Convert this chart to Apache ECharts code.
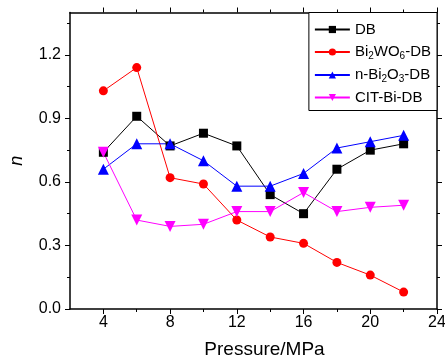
<!DOCTYPE html>
<html>
<head>
<meta charset="utf-8">
<script src="https://cdn.jsdelivr.net/npm/echarts@6/dist/echarts.min.js"></script>
<style>html,body{margin:0;padding:0;background:#fff}#c{width:445px;height:358px}</style>
</head>
<body>
<div id="c"></div>
<script>
const pressure = [4, 6, 8, 10, 12, 14, 16, 18, 20, 22];
const dbN = [0.74, 0.91, 0.77, 0.83, 0.77, 0.54, 0.45, 0.66, 0.75, 0.78];
const bwoN = [1.03, 1.14, 0.62, 0.59, 0.42, 0.34, 0.31, 0.22, 0.16, 0.08];
const bi2o3N = [0.66, 0.78, 0.78, 0.70, 0.58, 0.58, 0.64, 0.76, 0.79, 0.82];
const citN = [0.74, 0.42, 0.39, 0.40, 0.46, 0.46, 0.55, 0.46, 0.48, 0.49];
const seriesNames = ['DB', 'Bi2WO6-DB', 'n-Bi2O3-DB', 'CIT-Bi-DB'];
const xMajorTicks = [4, 8, 12, 16, 20, 24];
const xMinorTicks = [6, 10, 14, 18, 22];
const yMajorTicks = [0, 0.3, 0.6, 0.9, 1.2];
const yMinorTicks = [0.15, 0.45, 0.75, 1.05, 1.35];

const FONT = 'Liberation Sans, Arial, sans-serif';
const pairs = arr => pressure.map((p, i) => [p, arr[i]]);
const lineStyle = {color: '#000', width: 1.5};

function xAx(pos, ticks, len, showLine, showLabel) {
  return {
    type: 'value', min: 2, max: 24, position: pos,
    axisLine: {show: showLine, onZero: false, lineStyle: lineStyle},
    axisTick: {show: true, inside: false, length: len, customValues: ticks, lineStyle: {color: '#000', width: 1}},
    axisLabel: showLabel ? {show: true, customValues: ticks, fontSize: 16, color: '#000', fontFamily: FONT, margin: 6} : {show: false},
    splitLine: {show: false}
  };
}
function yAx(pos, ticks, len, showLine, showLabel) {
  return {
    type: 'value', min: 0, max: 1.4, position: pos,
    axisLine: {show: showLine, onZero: false, lineStyle: lineStyle},
    axisTick: {show: true, inside: false, length: len, customValues: ticks, lineStyle: {color: '#000', width: 1}},
    axisLabel: showLabel ? {show: true, customValues: ticks, fontSize: 16, color: '#000', fontFamily: FONT, margin: 9,
      formatter: v => Number(v).toFixed(1)} : {show: false},
    splitLine: {show: false}
  };
}

const xBottom = xAx('bottom', xMajorTicks, 5, true, true);
xBottom.name = 'Pressure/MPa';
xBottom.nameLocation = 'middle';
xBottom.nameGap = 31;
xBottom.nameTextStyle = {fontSize: 19, color: '#000', fontFamily: FONT, padding: [0, 0, 0, 22]};
const yLeft = yAx('left', yMajorTicks, 5, true, true);
yLeft.name = 'n';
yLeft.nameLocation = 'middle';
yLeft.nameGap = 44;
yLeft.nameTextStyle = {fontSize: 18, color: '#000', fontFamily: FONT, fontStyle: 'italic'};

const colors = ['#000000', '#ff0000', '#0000ff', '#ff00ff'];
const symbols = ['rect', 'circle', 'triangle', 'triangle'];
const symSizes = [9, 9, 11, 11];
const rotates = [0, 0, 0, 180];
const dataSets = [dbN, bwoN, bi2o3N, citN];

const option = {
  animation: false,
  grid: {left: 70, right: 8, top: 12.5, bottom: 49, containLabel: false, outerBoundsMode: 'none'},
  xAxis: [xBottom, xAx('bottom', xMinorTicks, 3, false, false), xAx('top', xMajorTicks, 5, true, false), xAx('top', xMinorTicks, 3, false, false)],
  yAxis: [yLeft, yAx('left', yMinorTicks, 3, false, false), yAx('right', yMajorTicks, 5, true, false), yAx('right', yMinorTicks, 3, false, false)],
  legend: {
    orient: 'vertical', right: 8, top: 12.5,
    backgroundColor: '#fff',
    borderColor: '#000', borderWidth: 1, borderRadius: 0,
    padding: [8, 6, 4, 5], itemGap: 4,
    itemWidth: 35, itemHeight: 9,
    data: seriesNames,
    formatter: name => name.replace(/(\d)/g, '{s|$1}'),
    textStyle: {fontSize: 15, color: '#000', fontFamily: FONT, lineHeight: 18,
      rich: {s: {fontSize: 10, fontFamily: FONT, color: '#000', padding: [9, 0, 0, 0], lineHeight: 18}}}
  },
  series: seriesNames.map((n, i) => ({
    name: n, type: 'line', xAxisIndex: 0, yAxisIndex: 0,
    data: pairs(dataSets[i]),
    symbol: symbols[i], symbolSize: symSizes[i], symbolRotate: rotates[i],
    showAllSymbol: true,
    lineStyle: {color: colors[i], width: 1},
    itemStyle: {color: colors[i]},
    z: 3
  }))
};
const chart = echarts.init(document.getElementById('c'), null, {renderer: 'canvas'});
chart.setOption(option);
</script>
</body>
</html>
